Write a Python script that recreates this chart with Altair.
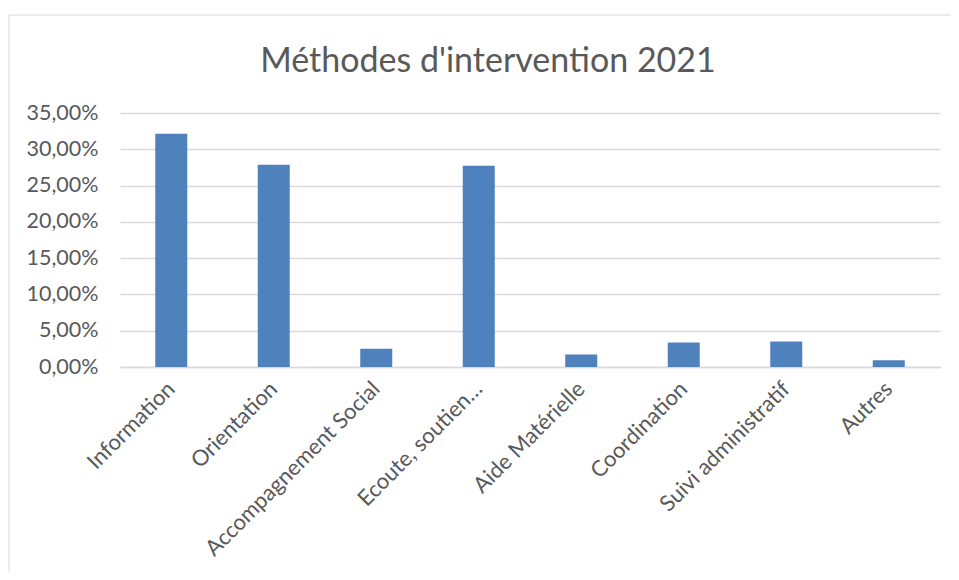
import altair as alt
import pandas as pd

categories = ["Information", "Orientation", "Accompagnement Social", "Ecoute, soutien…",
              "Aide Matérielle", "Coordination", "Suivi administratif", "Autres"]
values = [0.3215, 0.2788, 0.0252, 0.2774, 0.0171, 0.0336, 0.0350, 0.0092]
title_text = "Méthodes d'intervention 2021"

df = pd.DataFrame({"cat": categories, "val": values})

W, H = 820, 254
PAD_L, PAD_T = 112, 105
OX, OY = 8 + PAD_L, 8 + PAD_T  # plot origin in page pixels

FONT = "Lato"
GREY = "#595959"

bars = alt.Chart(df).mark_bar(size=32, color="#4F81BD").encode(
    x=alt.X("cat:N", sort=categories,
            scale=alt.Scale(paddingInner=0, paddingOuter=0),
            axis=alt.Axis(title=None, labelAngle=-45, labelAlign="right",
                          labelBaseline="middle", labelPadding=18, ticks=False,
                          domain=True, domainColor="#d9d9d9", domainWidth=1.5,
                          labelFont=FONT, labelFontSize=22, labelColor=GREY,
                          labelLimit=400)),
    y=alt.Y("val:Q",
            scale=alt.Scale(domain=[0, 0.35], nice=False),
            axis=alt.Axis(title=None, values=[0, 0.05, 0.1, 0.15, 0.2, 0.25, 0.3, 0.35],
                          labelExpr="replace(format(datum.value, '.2%'), '.', ',')",
                          ticks=False, domain=False, grid=True, gridColor="#d9d9d9",
                          gridWidth=1.5, labelPadding=22, labelFont=FONT,
                          labelFontSize=21.5, labelColor=GREY)),
)

border = alt.Chart(pd.DataFrame({"a": [0]})).mark_rect(
    fill=None, stroke="#d9d9d9", strokeWidth=1
).encode(
    x=alt.value(9 - OX), x2=alt.value(W + 40),
    y=alt.value(15 - OY), y2=alt.value(H + 250),
)

title = alt.Chart(pd.DataFrame({"t": [title_text]})).mark_text(
    font=FONT, fontSize=34, color=GREY, align="center", baseline="alphabetic"
).encode(
    text="t:N", x=alt.value(488 - OX), y=alt.value(72 - OY),
)

chart = alt.layer(border, bars, title).properties(
    width=W, height=H,
    autosize=alt.AutoSizeParams(type="none"),
    padding={"left": PAD_L, "top": PAD_T, "right": 11, "bottom": 205},
).configure(background="white").configure_view(stroke=None)

chart.save("out.html", embed_options={"renderer": "svg", "actions": False})
